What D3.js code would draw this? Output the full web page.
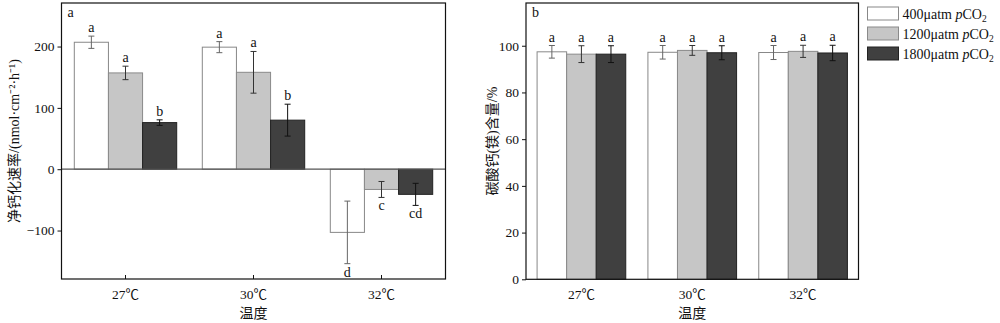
<!DOCTYPE html>
<html>
<head>
<meta charset="utf-8">
<script src="https://cdn.jsdelivr.net/npm/d3@7"></script>
<style>
  body { margin: 0; background: #fff; }
  text { font-family: "Liberation Serif", "Noto Sans CJK SC", serif; fill: #111; }
</style>
</head>
<body>
<script>
let w = 1000;
let h = 323;

let temps = ['27℃', '30℃', '32℃'];
let series = ['400', '1200', '1800'];
let fills = ['#ffffff', '#c6c6c6', '#404040'];
let strokes = ['#888888', '#8a8a8a', '#222222'];
let errColors = ['#666666', '#333333', '#111111'];

// panel a: net calcification rate
let rateVals = [[207, 157, 76], [199, 158, 80], [-103, -33, -41]];
let rateErr = [[10, 11, 4.5], [9, 34, 26], [51, 13, 18]];
let rateSig = [['a', 'a', 'b'], ['a', 'a', 'b'], ['d', 'c', 'cd']];
let rateTicks = [-100, 0, 100, 200];

// panel b: carbonate content
let carbVals = [[97.4, 96.4, 96.4], [97.2, 98.0, 97.0], [97.1, 97.6, 96.9]];
let carbErr = [[2.7, 3.6, 3.6], [2.9, 2.1, 3.0], [3.0, 2.6, 3.3]];
let carbSig = [['a', 'a', 'a'], ['a', 'a', 'a'], ['a', 'a', 'a']];
let carbTicks = [0, 20, 40, 60, 80, 100];

let svg = d3.select('body')
  .append('svg')
  .attr('width', w)
  .attr('height', h);

function panel(opt) {
  let x0 = d3.scaleBand()
    .domain(temps)
    .range([opt.left, opt.right])
    .paddingInner(0.2)
    .paddingOuter(0.1);

  let x1 = d3.scaleBand()
    .domain(series)
    .range([0, x0.bandwidth()]);

  let y = d3.scaleLinear()
    .domain(opt.domain)
    .range([opt.bottom, opt.top]);

  let g = svg.append('g');

  let rows = [];
  temps.forEach((t, i) => {
    series.forEach((s, j) => {
      rows.push({ t: t, s: s, j: j, v: opt.vals[i][j], e: opt.err[i][j], sig: opt.sig[i][j] });
    });
  });

  g.selectAll('rect.bar')
    .data(rows)
    .enter()
    .append('rect')
    .attr('class', 'bar')
    .attr('x', (d) => { return x0(d.t) + x1(d.s); })
    .attr('y', (d) => { return y(Math.max(0, d.v)); })
    .attr('width', x1.bandwidth())
    .attr('height', (d) => { return Math.abs(y(d.v) - y(0)); })
    .attr('fill', (d) => { return fills[d.j]; })
    .attr('stroke', (d) => { return strokes[d.j]; })
    .attr('stroke-width', 1);

  if (opt.domain[0] < 0) {
    g.append('line')
      .attr('x1', opt.left)
      .attr('x2', opt.right)
      .attr('y1', y(0))
      .attr('y2', y(0))
      .attr('stroke', '#555')
      .attr('stroke-width', 1.2);
  }

  let err = g.selectAll('g.err')
    .data(rows)
    .enter()
    .append('g')
    .attr('class', 'err')
    .attr('stroke', (d) => { return errColors[d.j]; })
    .attr('stroke-width', 1);

  let cx = (d) => { return x0(d.t) + x1(d.s) + x1.bandwidth() / 2; };

  err.append('line')
    .attr('x1', cx).attr('x2', cx)
    .attr('y1', (d) => { return y(d.v + d.e); })
    .attr('y2', (d) => { return y(d.v - d.e); });
  err.append('line')
    .attr('x1', (d) => { return cx(d) - 3; }).attr('x2', (d) => { return cx(d) + 3; })
    .attr('y1', (d) => { return y(d.v + d.e); })
    .attr('y2', (d) => { return y(d.v + d.e); });
  err.append('line')
    .attr('x1', (d) => { return cx(d) - 3; }).attr('x2', (d) => { return cx(d) + 3; })
    .attr('y1', (d) => { return y(d.v - d.e); })
    .attr('y2', (d) => { return y(d.v - d.e); });

  g.selectAll('text.sig')
    .data(rows)
    .enter()
    .append('text')
    .attr('class', 'sig')
    .attr('x', cx)
    .attr('y', (d) => { return d.v >= 0 ? y(d.v + d.e) - 4 : y(d.v - d.e) + 13; })
    .attr('text-anchor', 'middle')
    .attr('font-size', 14)
    .text((d) => { return d.sig; });

  // frame
  g.append('rect')
    .attr('x', opt.left)
    .attr('y', opt.top)
    .attr('width', opt.right - opt.left)
    .attr('height', opt.bottom - opt.top)
    .attr('fill', 'none')
    .attr('stroke', '#111')
    .attr('stroke-width', 1.2);

  let yAxis = d3.axisLeft(y)
    .tickValues(opt.ticks)
    .tickSize(4)
    .tickFormat((d) => { return d < 0 ? '\u2212' + Math.abs(d) : d; });

  let ya = g.append('g')
    .attr('transform', 'translate(' + opt.left + ', 0)')
    .call(yAxis);
  ya.select('.domain').remove();
  ya.selectAll('line').attr('stroke', '#111');
  ya.selectAll('text')
    .attr('font-size', 13.5)
    .attr('font-family', '"Liberation Serif", serif')
    .attr('fill', '#111');

  let xAxis = d3.axisBottom(x0)
    .tickSize(opt.xTicks ? -4 : 0)
    .tickPadding(10);

  let xa = g.append('g')
    .attr('transform', 'translate(0, ' + opt.bottom + ')')
    .call(xAxis);
  xa.select('.domain').remove();
  xa.selectAll('line').attr('stroke', '#111');
  xa.selectAll('text')
    .attr('font-size', 13.5)
    .attr('font-family', '"Liberation Serif", "Noto Sans CJK SC", serif')
    .attr('fill', '#111');

  g.append('text')
    .attr('x', (opt.left + opt.right) / 2)
    .attr('y', 318)
    .attr('text-anchor', 'middle')
    .attr('font-size', 14)
    .text('温度');

  g.append('text')
    .attr('transform', 'translate(' + opt.yLabelX + ', ' + (opt.top + opt.bottom) / 2 + ') rotate(-90)')
    .attr('text-anchor', 'middle')
    .attr('font-size', 14)
    .text(opt.yLabel);

  g.append('text')
    .attr('x', opt.left + 6)
    .attr('y', opt.top + 14)
    .attr('font-size', 14)
    .text(opt.tag);
}

panel({
  left: 61.5, right: 445.5, top: 3, bottom: 279,
  domain: [-179, 271], ticks: rateTicks,
  vals: rateVals, err: rateErr, sig: rateSig,
  xTicks: true, yLabelX: 19, tag: 'a',
  yLabel: '净钙化速率/(nmol·cm⁻²·h⁻¹)'
});

panel({
  left: 526, right: 858.5, top: 3, bottom: 279.3,
  domain: [0, 118.3], ticks: carbTicks,
  vals: carbVals, err: carbErr, sig: carbSig,
  xTicks: false, yLabelX: 497, tag: 'b',
  yLabel: '碳酸钙(镁)含量/%'
});

// legend
let legend = svg.append('g')
  .attr('transform', 'translate(867.5, 7)');

let items = legend.selectAll('g')
  .data(series)
  .enter()
  .append('g')
  .attr('transform', (d, i) => { return 'translate(0, ' + (i * 20) + ')'; });

items.append('rect')
  .attr('width', 31)
  .attr('height', 13)
  .attr('fill', (d, i) => { return fills[i]; })
  .attr('stroke', (d, i) => { return strokes[i]; });

let lt = items.append('text')
  .attr('x', 35)
  .attr('y', 11.5)
  .attr('font-size', 14);
lt.append('tspan').text((d) => { return d + 'μatm '; });
lt.append('tspan').attr('font-style', 'italic').text('p');
lt.append('tspan').text('CO');
lt.append('tspan').attr('font-size', 9.5).attr('dy', 3).text('2');
</script>
</body>
</html>
